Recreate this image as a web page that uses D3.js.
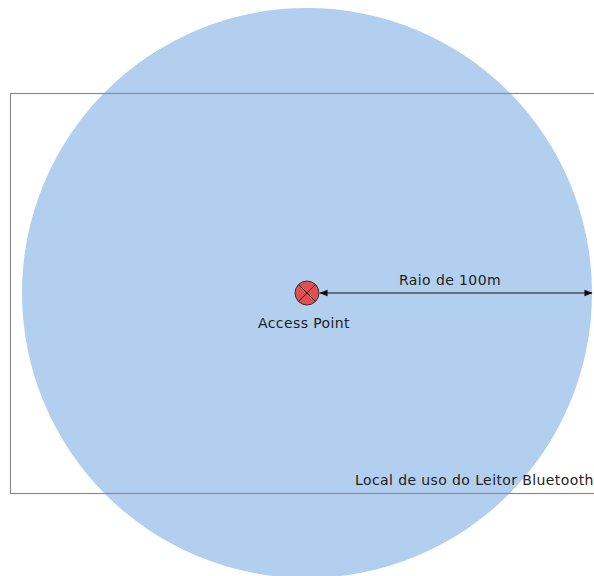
<!DOCTYPE html>
<html>
<head>
<meta charset="utf-8">
<script src="https://cdn.jsdelivr.net/npm/d3@7"></script>
<style>
  body { margin: 0; background: #fff; }
  svg { display: block; }
  text { font-family: "DejaVu Sans", Verdana, sans-serif; font-size: 14px; letter-spacing: 0.4px; fill: #222; }
</style>
</head>
<body>
<div id="chart"></div>
<script>
// coverage data
const apName = ["Access Point"];
const rangeMeters = [100];
const rangeLabel = ["Raio de 100m"];
const areaLabel = ["Local de uso do Leitor Bluetooth"];

const width = 594, height = 576;
const cx = 307, cy = 293;

// meters -> pixels
const r = d3.scaleLinear().domain([0, 100]).range([0, 285]);

const svg = d3.select('#chart').append('svg')
    .attr('width', width)
    .attr('height', height);

// coverage circle
svg.selectAll('circle.range')
    .data(rangeMeters)
    .enter().append('circle')
    .attr('class', 'range')
    .attr('cx', cx)
    .attr('cy', cy)
    .attr('r', d => r(d))
    .style('fill', '#b2cfef');

// usage area rectangle
svg.append('rect')
    .attr('x', 10.5)
    .attr('y', 93.5)
    .attr('width', 600)
    .attr('height', 400)
    .style('fill', 'none')
    .style('stroke', '#8c8c8c')
    .style('stroke-width', 1.2);

svg.append('text')
    .attr('x', 355)
    .attr('y', 485)
    .text(areaLabel[0]);

// radius arrow
svg.append('defs').append('marker')
    .attr('id', 'arr')
    .attr('viewBox', '0 0 10 10')
    .attr('refX', 9).attr('refY', 5)
    .attr('markerWidth', 7).attr('markerHeight', 7)
    .attr('orient', 'auto-start-reverse')
    .append('path')
    .attr('d', 'M0,1 L10,5 L0,9 Z')
    .style('fill', '#111');

svg.append('line')
    .attr('x1', cx + 13)
    .attr('x2', cx + r(rangeMeters[0]))
    .attr('y1', cy).attr('y2', cy)
    .style('stroke', '#111')
    .style('stroke-width', 1.2)
    .attr('marker-start', 'url(#arr)')
    .attr('marker-end', 'url(#arr)');

svg.append('text')
    .attr('x', cx + 143)
    .attr('y', cy - 8)
    .attr('text-anchor', 'middle')
    .text(rangeLabel[0]);

// access point marker
const ap = svg.append('g').attr('transform', `translate(${cx},${cy})`);
ap.append('circle')
    .attr('r', 12)
    .style('fill', '#e0504f')
    .style('stroke', '#333')
    .style('stroke-width', 1);
const k = 12 * Math.SQRT1_2;
ap.append('path')
    .attr('d', `M${-k},${-k}L${k},${k}M${-k},${k}L${k},${-k}`)
    .style('stroke', '#222')
    .style('stroke-width', 1);

svg.append('text')
    .attr('x', cx - 3)
    .attr('y', cy + 35)
    .attr('text-anchor', 'middle')
    .text(apName[0]);
</script>
</body>
</html>
